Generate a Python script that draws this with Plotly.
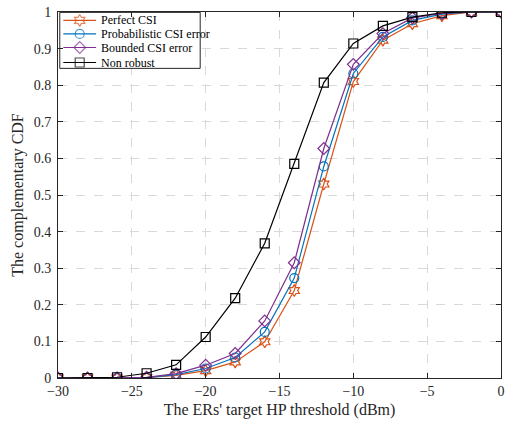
import plotly.graph_objects as go

x = [-30, -28, -26, -24, -22, -20, -18, -16, -14, -12, -10, -8, -6, -4, -2, 0]
perfect = [0, 0, 0, 0.001, 0.007, 0.020, 0.044, 0.099, 0.239, 0.530, 0.810, 0.923, 0.968, 0.990, 1.0, 1.0]
probabilistic = [0, 0, 0, 0.001, 0.009, 0.026, 0.056, 0.126, 0.273, 0.578, 0.832, 0.932, 0.977, 0.994, 1.0, 1.0]
bounded = [0, 0, 0, 0.002, 0.012, 0.035, 0.067, 0.156, 0.315, 0.627, 0.857, 0.941, 0.984, 0.996, 1.0, 1.0]
nonrobust = [0, 0, 0.002, 0.013, 0.036, 0.112, 0.218, 0.368, 0.585, 0.807, 0.914, 0.962, 0.986, 0.998, 1.0, 1.0]

names = ["Perfect CSI", "Probabilistic CSI error", "Bounded CSI error", "Non robust"]
colors = ["#D95319", "#0072BD", "#7E2F8E", "#000000"]
symbols = ["hexagram-open", "circle-open", "diamond-open", "square-open"]
series = [perfect, probabilistic, bounded, nonrobust]

FONT = "Liberation Serif"

fig = go.Figure()
for n, c, s, y in zip(names, colors, symbols, series):
    fig.add_trace(go.Scatter(
        x=x, y=y, name=n, mode="lines+markers", showlegend=False,
        line=dict(color=c, width=1.2),
        marker=dict(symbol=s, size=9, color=c, line=dict(color=c, width=1.2)),
    ))

# Legend drawn inside the plot area (top-left), on an overlay axis spanning [0,1]
leg_rows = [0.977, 0.940, 0.903, 0.862]
leg_box_x = [0.004, 0.321]
leg_box_y = [0.846, 0.999]
leg_mark_x = 0.049
leg_text_x = 0.093
fig.add_trace(go.Scatter(
    x=[leg_box_x[0], leg_box_x[1], leg_box_x[1], leg_box_x[0], leg_box_x[0]],
    y=[leg_box_y[0], leg_box_y[0], leg_box_y[1], leg_box_y[1], leg_box_y[0]],
    xaxis="x2", yaxis="y2", mode="lines", fill="toself", fillcolor="white",
    line=dict(color="#262626", width=1), showlegend=False, hoverinfo="skip",
))
for n, yy in zip(names, leg_rows):
    fig.add_annotation(xref="x domain", yref="y domain", x=leg_text_x, y=yy,
                       text=n, showarrow=False, xanchor="left", yanchor="middle",
                       font=dict(family=FONT, size=12, color="#000000"))
for n, c, s, yy in zip(names, colors, symbols, leg_rows):
    fig.add_trace(go.Scatter(
        x=[0.012, leg_mark_x, 0.086], y=[yy, yy, yy], xaxis="x2", yaxis="y2",
        mode="lines+markers", showlegend=False, hoverinfo="skip",
        line=dict(color=c, width=1.2),
        marker=dict(symbol=s, size=[0, 9, 0], color=c, line=dict(color=c, width=1.2)),
    ))

axis_common = dict(
    showline=True, linecolor="#262626", linewidth=1, mirror="ticks",
    ticks="inside", ticklen=5, tickcolor="#262626",
    showgrid=True, gridcolor="#d9d9d9", griddash="dash", gridwidth=1,
    zeroline=False, tickfont=dict(family=FONT, size=14, color="#262626"),
)

fig.update_layout(
    xaxis=dict(range=[-30, 0], tickvals=[-30, -25, -20, -15, -10, -5, 0],
               title=dict(text="The ERs' target HP threshold (dBm)", font=dict(family=FONT, size=16, color="#262626"), standoff=6),
               **axis_common),
    yaxis=dict(range=[0, 1], tickvals=[0, 0.1, 0.2, 0.3, 0.4, 0.5, 0.6, 0.7, 0.8, 0.9, 1],
               ticktext=["0", "0.1", "0.2", "0.3", "0.4", "0.5", "0.6", "0.7", "0.8", "0.9", "1"],
               ticklabelstandoff=3,
               title=dict(text="The complementary CDF", font=dict(family=FONT, size=16, color="#262626"), standoff=6),
               **axis_common),
    xaxis2=dict(overlaying="x", range=[0, 1], visible=False, fixedrange=True),
    yaxis2=dict(overlaying="y", range=[0, 1], visible=False, fixedrange=True),
    width=510, height=429,
    margin=dict(l=58, r=5, t=10, b=51),
    paper_bgcolor="white", plot_bgcolor="white",
    font=dict(family=FONT, color="#262626"),
    showlegend=False,
)

fig.write_html("out.html")
